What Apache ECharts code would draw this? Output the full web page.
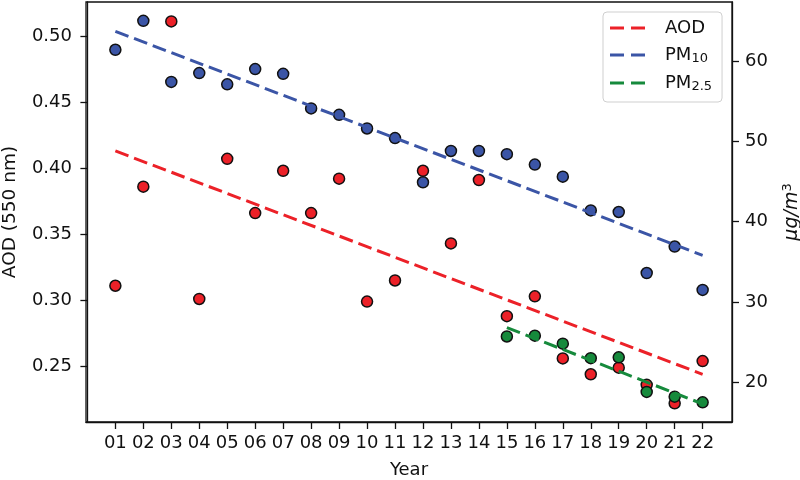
<!DOCTYPE html>
<html>
<head>
<meta charset="utf-8">
<script src="https://cdn.jsdelivr.net/npm/echarts@6/dist/echarts.min.js"></script>
<style>html,body{margin:0;padding:0;background:#fff;}#c{width:800px;height:480px;}</style>
</head>
<body>
<div id="c"></div>
<script>
// ---- data ----
const years = ['01','02','03','04','05','06','07','08','09','10','11','12','13','14','15','16','17','18','19','20','21','22'];
const aod = [0.311,0.386,0.511,0.301,0.407,0.366,0.398,0.366,0.392,0.299,0.315,0.398,0.343,0.391,0.288,0.303,0.256,0.244,0.249,0.236,0.222,0.254];
const pm10 = [61.4,65.0,57.4,58.5,57.1,59.0,58.4,54.1,53.3,51.6,50.4,44.9,48.8,48.8,48.4,47.1,45.6,41.4,41.2,33.6,36.9,31.5];
const pm25Years = ['15','16','17','18','19','20','21','22'];
const pm25 = [25.7,25.8,24.8,23.0,23.1,18.8,18.2,17.5];
// trend lines: [startYear, endYear] and [startValue, endValue]
const aodTrendYears = ['01','22'];
const aodTrend = [0.413,0.244];
const pm10TrendYears = ['01','22'];
const pm10Trend = [63.7,35.8];
const pm25TrendYears = ['15','22'];
const pm25Trend = [26.8,17.3];
const aodTicks = [0.25,0.30,0.35,0.40,0.45,0.50];
const pmTicks = [20,30,40,50,60];

const xOf = y => years.indexOf(y) + 1;
const FONT = 'DejaVu Sans';
const C_RED = '#ec2128', C_BLUE = '#3b55a6', C_GREEN = '#168a3c';
const dash = [14, 6];

const pairs = (ys, vs) => ys.map((y, i) => [xOf(y), vs[i]]);
const markerStyle = c => ({ color: c, borderColor: '#111', borderWidth: 1.5, opacity: 1 });

const chart = echarts.init(document.getElementById('c'), null, { renderer: 'canvas' });
const axisLine = { show: true, lineStyle: { color: '#111', width: 1.3 } };
const axisTick = { show: true, length: 7, lineStyle: { color: '#111', width: 1.3 } };
const xVals = years.map((y, i) => i + 1);

chart.setOption({
  animation: false,
  textStyle: { fontFamily: FONT },
  grid: { left: 86, right: 68, top: 2, bottom: 58, containLabel: false, outerBoundsMode: 'none',
    show: true, borderColor: '#111', borderWidth: 1.3 },
  legend: {
    orient: 'vertical', left: 603, top: 12,
    padding: [7, 10, 9, 7], itemGap: 9,
    itemWidth: 35, itemHeight: 3,
    icon: 'path://M0,0h14v3h-14z M21,0h14v3h-14z',
    backgroundColor: 'rgba(255,255,255,0.85)',
    borderColor: '#cfcfcf', borderWidth: 1, borderRadius: 4,
    data: ['AOD', 'PM10', 'PM2.5'],
    formatter: n => n === 'AOD' ? '{b|AOD}' : (n === 'PM10' ? '{b|PM}{s|10}' : '{b|PM}{s|2.5}'),
    textStyle: {
      padding: [0, 0, 0, 15],
      rich: {
        b: { fontSize: 18, lineHeight: 20, fontFamily: FONT, color: '#111' },
        s: { fontSize: 13, lineHeight: 10, verticalAlign: 'bottom', fontFamily: FONT, color: '#111' }
      }
    }
  },
  xAxis: {
    type: 'value', min: -0.05, max: 23.05,
    name: 'Year', nameLocation: 'middle', nameGap: 39,
    nameTextStyle: { fontSize: 18, color: '#111', fontFamily: FONT },
    axisLine: axisLine,
    axisTick: Object.assign({ customValues: xVals }, axisTick),
    axisLabel: { customValues: xVals, fontSize: 18, color: '#111', margin: 12, fontFamily: FONT,
      formatter: v => years[Math.round(v) - 1] || '' },
    splitLine: { show: false }
  },
  yAxis: [
    {
      type: 'value', min: 0.2079, max: 0.5257, position: 'left',
      name: 'AOD (550 nm)', nameLocation: 'middle', nameGap: 66,
      nameTextStyle: { fontSize: 18.5, color: '#111', fontFamily: FONT },
      axisLine: axisLine,
      axisTick: Object.assign({ customValues: aodTicks }, axisTick),
      axisLabel: { customValues: aodTicks, fontSize: 18, color: '#111', margin: 14, fontFamily: FONT,
        formatter: v => v.toFixed(2) },
      splitLine: { show: false }
    },
    {
      type: 'value', min: 15.05, max: 67.35, position: 'right',
      name: '{m|μg/m}{p|3}', nameLocation: 'middle', nameGap: 49,
      nameTextStyle: {
        rich: {
          m: { fontSize: 19, fontStyle: 'italic', lineHeight: 22, color: '#111', fontFamily: FONT },
          p: { fontSize: 13, lineHeight: 12, verticalAlign: 'top', color: '#111', fontFamily: FONT }
        }
      },
      axisLine: axisLine,
      axisTick: Object.assign({ customValues: pmTicks }, axisTick),
      axisLabel: { customValues: pmTicks, fontSize: 18, color: '#111', margin: 13, fontFamily: FONT },
      splitLine: { show: false }
    }
  ],
  series: [
    { name: 'AOD pts', type: 'scatter', yAxisIndex: 0, z: 2, symbolSize: 11,
      itemStyle: markerStyle(C_RED), data: pairs(years, aod) },
    { name: 'AOD', type: 'line', yAxisIndex: 0, z: 3, showSymbol: false, symbol: 'none',
      color: C_RED, itemStyle: { color: C_RED },
      lineStyle: { color: C_RED, width: 3, type: dash }, data: pairs(aodTrendYears, aodTrend) },
    { name: 'PM10 pts', type: 'scatter', yAxisIndex: 1, z: 4, symbolSize: 11,
      itemStyle: markerStyle(C_BLUE), data: pairs(years, pm10) },
    { name: 'PM2.5 pts', type: 'scatter', yAxisIndex: 1, z: 4, symbolSize: 11,
      itemStyle: markerStyle(C_GREEN), data: pairs(pm25Years, pm25) },
    { name: 'PM10', type: 'line', yAxisIndex: 1, z: 5, showSymbol: false, symbol: 'none',
      color: C_BLUE, itemStyle: { color: C_BLUE },
      lineStyle: { color: C_BLUE, width: 3, type: dash }, data: pairs(pm10TrendYears, pm10Trend) },
    { name: 'PM2.5', type: 'line', yAxisIndex: 1, z: 5, showSymbol: false, symbol: 'none',
      color: C_GREEN, itemStyle: { color: C_GREEN },
      lineStyle: { color: C_GREEN, width: 3, type: dash }, data: pairs(pm25TrendYears, pm25Trend) }
  ]
});
</script>
</body>
</html>
